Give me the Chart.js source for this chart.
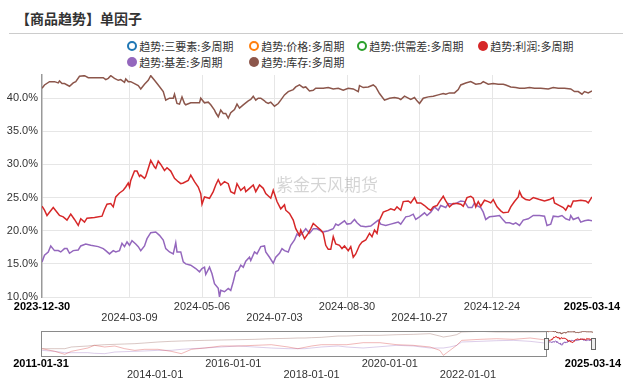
<!DOCTYPE html>
<html><head><meta charset="utf-8">
<script src="https://cdn.jsdelivr.net/npm/chart.js@4.4.1/dist/chart.umd.min.js"></script>
<style>
html,body{margin:0;padding:0;background:#fff;}
body{width:632px;height:381px;position:relative;overflow:hidden;font-family:"Noto Sans CJK SC","Noto Sans",sans-serif;}
#title{position:absolute;left:16px;top:8px;font-size:14px;line-height:20px;font-weight:bold;color:#333;white-space:nowrap;}
#rule{position:absolute;left:9px;top:33px;width:614px;height:1px;background:#ccc;}
.mk{position:absolute;border-radius:50%;box-sizing:border-box;}
.tx{position:absolute;font-size:11px;line-height:14px;color:#333;white-space:nowrap;}
#main{position:absolute;left:0;top:0;}
#nav{position:absolute;left:0;top:322px;}
</style>
</head><body>
<div id="title">【商品趋势】单因子</div>
<div id="rule"></div>
<div id="legend"></div>
<canvas id="main" width="632" height="330"></canvas>
<canvas id="nav" width="632" height="59"></canvas>
<script>
// ---------- DATA ----------
const mainTickDays = [0,70,128,186,244,302,360,440];
const mainTickLabels = ['2023-12-30','2024-03-09','2024-05-06','2024-07-03','2024-08-30','2024-10-27','2024-12-24','2025-03-14'];
const yTickValues = [10,15,20,25,30,35,40];

// 趋势:利润:多周期 (days since 2023-12-30, %)
const profitDays = [0,2,4,6,9,12,14,17,20,23,26,29,31,34,36,42,48,50,52,55,57,59,62,65,67,69,70,71,74,76,78,79,82,83,85,87,90,91,93,95,98,100,103,106,109,111,113,117,119,122,125,127,128,130,134,137,139,141,143,146,149,151,154,156,159,162,163,166,169,171,174,177,179,183,185,188,191,194,195,198,201,203,206,207,210,213,215,217,220,223,225,227,229,231,233,235,238,240,242,245,247,249,251,254,256,259,262,264,266,268,270,273,277,279,282,284,287,289,293,295,298,300,303,306,309,311,313,316,318,321,323,326,329,332,335,337,340,343,345,347,349,351,354,357,359,361,364,367,369,373,375,378,381,382,384,387,390,393,398,402,406,409,410,414,417,419,421,423,425,427,431,435,437,440];
const profitValues = [23.7,23.1,22.3,22.8,23.5,22.8,22.3,22.1,21.6,22.5,21.7,20.8,21.8,21.3,21.9,22.0,22.2,23.2,24.0,24.1,23.6,25.1,25.7,26.1,26.6,27.2,26.6,27.6,29.0,29.0,28.2,28.4,27.9,28.2,29.4,30.6,29.6,29.4,30.5,30.0,29.1,29.5,29.0,27.9,27.4,27.1,27.2,27.6,28.4,27.4,26.6,25.6,24.0,25.1,24.9,25.9,26.9,27.7,26.9,27.4,27.1,25.9,25.6,27.1,26.1,26.6,25.9,26.4,26.9,25.9,26.9,26.4,25.6,24.9,26.1,24.4,23.3,23.9,23.1,22.6,21.6,20.3,19.3,20.1,18.8,19.6,20.3,21.1,20.6,20.1,19.6,17.8,17.2,17.2,19.1,18.0,17.8,17.3,17.7,17.0,17.6,16.0,16.5,17.8,18.3,18.6,19.6,19.1,20.1,19.6,21.6,22.8,23.1,23.3,23.1,23.6,23.1,24.4,24.5,24.2,25.0,24.2,24.2,23.8,23.3,23.1,23.6,23.8,24.4,25.2,24.5,23.6,24.1,24.1,24.0,23.7,25.0,25.2,24.9,23.6,24.4,23.7,24.6,24.4,24.2,24.7,23.6,23.0,22.7,22.8,23.6,24.4,25.1,25.9,25.1,24.7,24.6,25.0,24.7,24.5,24.7,25.0,24.2,23.8,23.5,23.1,23.8,23.6,24.5,24.5,24.6,24.5,24.2,25.1];

// 趋势:基差:多周期
const basisDays = [0,2,5,7,10,13,15,18,20,22,25,29,31,35,39,45,49,51,54,57,59,62,64,66,68,70,72,75,77,79,82,84,87,91,94,97,99,102,105,107,108,111,113,115,119,123,126,128,130,131,134,136,138,141,142,143,146,149,151,153,155,157,159,161,163,166,167,170,172,175,178,179,182,185,187,190,192,194,197,199,202,204,206,209,211,214,217,220,223,225,229,233,235,237,242,244,247,250,252,255,259,263,267,269,271,275,279,283,285,287,291,294,297,299,302,306,308,311,314,317,319,323,325,329,332,335,338,341,344,346,348,351,353,355,358,362,366,369,371,374,377,379,382,385,389,393,398,402,404,407,409,413,416,419,422,423,425,429,431,434,437,440];
const basisValues = [15.3,16.3,16.8,17.7,17.0,17.0,16.8,17.3,17.3,16.6,17.0,17.1,17.7,18.0,17.8,17.6,17.3,17.0,16.5,17.0,16.8,17.0,18.1,17.6,18.3,17.8,18.5,18.0,17.6,17.0,17.7,18.8,19.7,19.8,19.3,18.6,17.3,16.8,16.5,18.2,16.8,16.8,15.3,15.0,14.8,14.3,13.8,14.3,14.5,13.4,14.5,13.5,12.0,11.3,10.0,11.0,10.8,11.3,11.0,12.3,13.8,14.0,14.8,14.5,15.4,16.0,15.5,16.8,16.5,17.6,17.7,16.8,16.0,15.1,16.0,16.6,17.3,17.0,16.8,17.8,18.6,19.5,19.2,19.8,20.3,19.6,20.3,20.3,20.0,19.8,20.0,20.3,21.0,20.8,21.5,21.0,21.1,21.7,21.2,20.7,20.6,20.7,21.3,21.6,21.0,20.8,21.0,21.2,21.3,21.0,22.1,22.2,22.5,21.7,22.1,22.7,22.3,22.8,23.6,23.1,23.8,23.5,24.1,24.0,24.2,24.5,24.4,23.5,23.5,24.2,23.8,23.5,22.8,21.7,22.1,22.2,22.3,21.6,21.2,21.2,21.0,21.2,20.8,21.6,21.8,22.3,22.3,22.2,20.8,21.0,22.2,22.1,22.3,21.8,21.6,22.3,21.7,22.0,21.3,21.5,21.6,21.5];

// 趋势:库存:多周期
const invDays = [0,2,6,10,13,14,16,18,22,25,27,30,34,37,43,49,51,53,55,58,61,63,66,67,69,71,74,77,79,82,85,87,90,93,97,99,102,105,106,108,110,112,114,115,119,123,126,127,130,133,135,138,139,141,143,145,147,149,151,154,156,158,161,163,165,167,169,171,173,175,178,179,181,183,186,189,191,194,197,201,203,206,209,211,214,217,219,222,225,229,233,237,241,245,249,253,254,257,261,265,267,270,274,278,282,285,287,290,293,295,298,300,302,305,309,313,317,321,323,326,330,333,335,339,343,347,351,353,357,361,365,369,371,375,379,382,386,390,394,399,405,409,413,418,423,426,429,432,434,437,440];
const invValues = [41.5,42.0,42.5,42.5,42.3,42.6,42.2,42.2,41.8,42.3,42.5,43.3,43.4,43.1,43.1,43.1,42.8,43.0,43.4,43.0,42.7,42.8,42.4,42.9,42.5,42.5,42.2,41.9,41.4,42.1,42.7,43.4,42.7,42.0,41.0,39.7,40.0,40.0,40.6,39.2,39.1,40.2,39.2,39.0,39.3,39.3,39.3,40.0,39.3,39.4,39.0,38.2,37.8,37.2,38.2,37.7,37.7,37.0,37.8,38.3,39.1,38.5,39.0,39.3,39.6,39.8,40.3,39.7,40.0,40.0,39.6,39.4,39.2,39.4,38.8,39.2,39.7,40.5,41.0,41.3,41.7,42.0,41.6,41.7,41.1,41.2,41.5,41.5,41.5,41.6,41.4,41.5,41.2,41.5,41.4,41.0,41.9,41.6,41.7,42.0,41.7,40.7,39.7,40.0,40.1,40.0,39.8,40.3,40.0,39.8,40.1,39.6,39.2,40.0,40.2,40.3,40.5,40.7,40.6,40.8,40.8,41.3,42.0,42.3,42.5,42.1,42.2,42.5,42.1,42.2,42.1,42.1,42.0,41.7,41.6,41.5,41.5,41.6,41.5,41.5,41.4,41.6,41.5,41.5,41.4,41.0,41.0,40.6,41.0,40.8,41.1];

// Navigator (full history, decimal years)
const navTickYears = [2011.082,2014.0,2016.0,2018.0,2020.0,2022.0,2025.197];
const navTickLabels = ['2011-01-31','2014-01-01','2016-01-01','2018-01-01','2020-01-01','2022-01-01','2025-03-14'];
const navYears = [2011.11,2011.43,2011.69,2011.86,2012.28,2012.45,2012.71,2012.97,2013.22,2013.48,2013.73,2014.07,2014.41,2014.67,2014.93,2015.27,2015.69,2016.12,2016.55,2016.97,2017.40,2017.65,2017.83,2018.00,2018.25,2018.68,2018.90,2019.32,2019.75,2020.18,2020.60,2021.03,2021.28,2021.37,2021.54,2021.71,2021.84,2022.31,2022.73,2023.16,2023.59,2023.93];
const navProfit = [1.8,-4.4,-11.5,-4.4,3.4,9.7,5.8,8.1,1.8,-2.1,0.3,0.3,-4.4,-9.9,0.3,3.4,8.1,8.1,9.7,11.2,5.8,1.8,5.0,8.1,11.2,11.2,11.2,15.9,15.9,11.2,9.7,5.8,-2.1,-13.8,-2.1,9.7,21.4,23.8,25.3,23.8,26.9,23.0];
const navBasis = [-2.1,-4.4,-7.6,-7.6,-7.6,-9.1,-9.9,-6.0,-5.2,-4.4,-3.6,-2.1,-2.1,0.3,1.8,3.4,5.8,8.1,5.8,3.4,1.8,1.8,1.8,3.4,5.8,8.1,5.8,3.4,6.5,9.7,8.1,3.4,3.4,3.4,5.8,9.7,17.5,19.1,20.6,21.4,19.1,15.5];
const navInv = [1.8,1.8,1.8,5.8,8.1,9.7,11.2,12.0,12.8,13.6,15.2,17.5,19.1,19.9,20.6,21.4,22.2,23.0,23.8,25.3,26.1,26.9,26.9,27.7,28.5,31.6,31.6,33.2,33.2,34.7,35.5,37.1,31.6,29.2,31.6,34.7,41.0,42.6,41.0,41.0,41.0,41.3];
const selStartYear = 2023.9945;

// ---------- LEGEND ----------
const legendItems = [
  {label:'趋势:三要素:多周期', color:'#1f77b4', hollow:true,  cx:132.3, cy:46},
  {label:'趋势:价格:多周期',   color:'#ff7f0e', hollow:true,  cx:254.3, cy:46},
  {label:'趋势:供需差:多周期', color:'#2ca02c', hollow:true,  cx:362.3, cy:46},
  {label:'趋势:利润:多周期',   color:'#d62728', hollow:false, cx:483.3, cy:46},
  {label:'趋势:基差:多周期',   color:'#9467bd', hollow:false, cx:132.3, cy:62},
  {label:'趋势:库存:多周期',   color:'#8c564b', hollow:false, cx:254.3, cy:62}
];
const lg = document.getElementById('legend');
legendItems.forEach(it=>{
  const m = document.createElement('div');
  m.className='mk';
  const s = 10;
  m.style.width=s+'px'; m.style.height=s+'px';
  m.style.left=(it.cx - s/2)+'px'; m.style.top=(it.cy - s/2)+'px';
  if(it.hollow){ m.style.border='2px solid '+it.color; m.style.background='#fff'; }
  else { m.style.background=it.color; }
  lg.appendChild(m);
  const t = document.createElement('div');
  t.className='tx'; t.textContent=it.label;
  t.style.left=(it.cx+7)+'px'; t.style.top=(it.cy-7)+'px';
  lg.appendChild(t);
});

// ---------- MAIN CHART ----------
const pts = (xs, ys) => xs.map((x,i)=>({x:x, y:ys[i]}));
const lastMain = mainTickDays.length-1;
const watermark = {
  id:'watermark',
  beforeDatasetsDraw(chart){
    const c = chart.ctx; c.save();
    c.font = '17px "Noto Sans CJK SC"';
    c.fillStyle = 'rgba(0,0,0,0.17)';
    c.textAlign='center'; c.textBaseline='middle';
    c.fillText('紫金天风期货', 327, 185);
    c.restore();
  }
};
new Chart(document.getElementById('main'), {
  type:'line',
  data:{datasets:[
    {label:'趋势:利润:多周期', data:pts(profitDays,profitValues), borderColor:'#d62728', borderWidth:1.5},
    {label:'趋势:基差:多周期', data:pts(basisDays,basisValues), borderColor:'#9467bd', borderWidth:1.5},
    {label:'趋势:库存:多周期', data:pts(invDays,invValues), borderColor:'#8c564b', borderWidth:1.5}
  ]},
  options:{
    responsive:false, animation:false, devicePixelRatio:1,
    layout:{padding:{left:0,right:40,top:75,bottom:0}},
    elements:{point:{radius:0}, line:{tension:0}},
    plugins:{legend:{display:false}, tooltip:{enabled:false}},
    scales:{
      x:{type:'linear', min:0, max:440,
        afterBuildTicks:(s)=>{ s.ticks = mainTickDays.map(v=>({value:v})); },
        afterFit:(s)=>{ s.height = 33; },
        border:{display:false},
        grid:{drawTicks:false, color:(c)=> (c.index===0||c.index===lastMain) ? 'rgba(0,0,0,0)' : '#e6e6e6'},
        ticks:{autoSkip:false, maxRotation:0, padding:4,
          callback:(v,i)=>{ const l = mainTickLabels[i]; return (i%2===1 && i!==lastMain) ? ['',l] : l; },
          font:(c)=>({family:'"Liberation Sans", Arial, sans-serif', size:11, lineHeight:1.0, weight:(c.index===0||c.index===lastMain)?'bold':'normal'}),
          color:(c)=> (c.index===0||c.index===lastMain) ? '#000' : '#333'
        }
      },
      y:{type:'linear', min:10, max:43.5,
        afterBuildTicks:(s)=>{ s.ticks = yTickValues.map(v=>({value:v})); },
        afterFit:(s)=>{ s.width = 42; },
        border:{display:true, color:'#999', width:1.5},
        grid:{drawTicks:false, color:'#e6e6e6'},
        ticks:{padding:4, color:'#333', font:{family:'"Liberation Sans", Arial, sans-serif', size:11},
          callback:(v)=> v.toFixed(1)+'%'}
      }
    }
  },
  plugins:[watermark]
});

// ---------- NAVIGATOR ----------
const mainYear = (d)=> selStartYear + d/365.25;
const lastNav = navTickYears.length-1;
const navBox = {
  id:'navBox',
  afterDatasetsDraw(chart){
    const {ctx:c, chartArea:a, scales:{x}} = chart;
    const xs = x.getPixelForValue(selStartYear), xe = x.getPixelForValue(navTickYears[lastNav]);
    c.save();
    c.strokeStyle='#8a8a8a'; c.lineWidth=1;
    c.strokeRect(Math.round(a.left)+0.5, Math.round(a.top)+0.5, Math.round(xs-a.left), Math.round(a.bottom-a.top));
    const mid = (a.top+a.bottom)/2 - 0.5;
    [xs, xe].forEach(px=>{
      c.fillStyle='#eeeeee'; c.strokeStyle='#666';
      c.fillRect(Math.round(px)-2, Math.round(mid-5.5), 4, 11);
      c.strokeRect(Math.round(px)-2+0.5, Math.round(mid-5.5)+0.5, 4, 11);
    });
    c.restore();
  }
};
const faded = (col)=>({borderColor:col, borderWidth:1});
new Chart(document.getElementById('nav'), {
  type:'line',
  data:{datasets:[
    Object.assign({data:pts(navYears.concat([mainYear(0)]), navProfit.concat([profitValues[0]]))}, faded('rgba(214,39,40,0.33)')),
    Object.assign({data:pts(navYears.concat([mainYear(0)]), navBasis.concat([basisValues[0]]))}, faded('rgba(148,103,189,0.33)')),
    Object.assign({data:pts(navYears.concat([mainYear(0)]), navInv.concat([invValues[0]]))}, faded('rgba(140,86,75,0.33)')),
    {data:pts(profitDays.map(mainYear), profitValues), borderColor:'#d62728', borderWidth:1},
    {data:pts(basisDays.map(mainYear), basisValues), borderColor:'#9467bd', borderWidth:1},
    {data:pts(invDays.map(mainYear), invValues), borderColor:'#8c564b', borderWidth:1}
  ]},
  options:{
    responsive:false, animation:false, devicePixelRatio:1,
    layout:{padding:{left:41,right:39,top:9,bottom:0}},
    elements:{point:{radius:0}, line:{tension:0}},
    plugins:{legend:{display:false}, tooltip:{enabled:false}},
    scales:{
      x:{type:'linear', min:navTickYears[0], max:navTickYears[lastNav],
        afterBuildTicks:(s)=>{ s.ticks = navTickYears.map(v=>({value:v})); },
        afterFit:(s)=>{ s.height = 25; },
        border:{display:false}, grid:{display:false, drawTicks:false},
        ticks:{autoSkip:false, maxRotation:0, padding:2,
          callback:(v,i)=>{ const l = navTickLabels[i]; return (i%2===1) ? ['',l] : l; },
          font:(c)=>({family:'"Liberation Sans", Arial, sans-serif', size:11, lineHeight:1.0, weight:(c.index===0||c.index===lastNav)?'bold':'normal'}),
          color:(c)=> (c.index===0||c.index===lastNav) ? '#000' : '#333'
        }
      },
      y:{display:false, min:-15.4, max:43.4}
    }
  },
  plugins:[navBox]
});
</script>
</body></html>
